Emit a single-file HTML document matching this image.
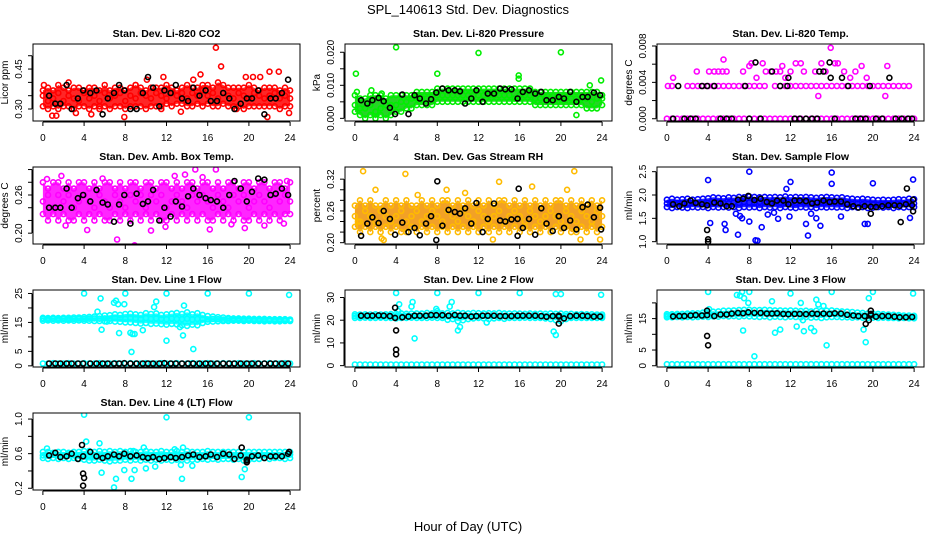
<!DOCTYPE html>
<html><head><meta charset="utf-8"><style>
html,body{margin:0;padding:0;background:#fff;}
svg{display:block;font-family:"Liberation Sans",sans-serif;}
</style></head><body>
<svg id="chart" width="936" height="540" viewBox="0 0 936 540" xmlns="http://www.w3.org/2000/svg">
<rect x="0" y="0" width="936" height="540" fill="#fff"/>
<text x="468" y="14" text-anchor="middle" font-size="13">SPL_140613  Std. Dev. Diagnostics</text>
<text x="468" y="531" text-anchor="middle" font-size="13">Hour of Day (UTC)</text>
</svg>
<script>
const HH=[0,0.5,1,1.5,2,2.5,3,3.5,4,4.5,5,5.5,6,6.5,7,7.5,8,8.5,9,9.5,10,10.5,11,11.5,12,12.5,13,13.5,14,14.5,15,15.5,16,16.5,17,17.5,18,18.5,19,19.5,20,20.5,21,21.5,22,22.5,23,23.5,24];
const BH=[0.6,1.2,1.7,2.3,2.8,3.4,3.9,4.6,5.2,5.8,6.3,6.9,7.4,7.9,8.5,9.1,9.7,10.2,10.7,11.3,11.8,12.4,12.9,13.5,14.1,14.6,15.2,15.8,16.3,16.9,17.5,18.1,18.6,19.2,19.8,20.3,20.9,21.5,22.1,22.6,23.2,23.8];
const xTicks=[0,4,8,12,16,20,24];

// CO2
const co2Lo=[0.31,0.30,0.31,0.30,0.31,0.31,0.30,0.31,0.31,0.30,0.31,0.31,0.31,0.30,0.31,0.31,0.30,0.31,0.31,0.31,0.30,0.31,0.31,0.31,0.32,0.31,0.32,0.32,0.31,0.31,0.32,0.31,0.32,0.31,0.31,0.32,0.31,0.31,0.31,0.30,0.31,0.31,0.31,0.31,0.31,0.31,0.30,0.31,0.31];
const co2Mid=[0.35,0.33,0.34,0.36,0.33,0.35,0.34,0.33,0.36,0.34,0.35,0.33,0.36,0.34,0.35,0.36,0.33,0.35,0.34,0.36,0.35,0.34,0.36,0.35,0.34,0.36,0.35,0.36,0.34,0.36,0.35,0.37,0.35,0.36,0.34,0.36,0.35,0.34,0.36,0.35,0.34,0.36,0.35,0.34,0.35,0.36,0.34,0.35,0.34];
const co2Hi=[0.37,0.38,0.37,0.39,0.38,0.37,0.38,0.38,0.37,0.38,0.38,0.37,0.39,0.37,0.38,0.38,0.37,0.38,0.39,0.38,0.37,0.38,0.38,0.38,0.39,0.38,0.37,0.38,0.39,0.38,0.38,0.39,0.39,0.38,0.40,0.39,0.38,0.38,0.38,0.38,0.39,0.38,0.37,0.38,0.38,0.38,0.37,0.38,0.37];
const co2OutH=[16.8,17.3,22.0,22.9,15.3,11.7,0.1,2.5,9.0,10.1,14.6,19.7,20.4,21.1,0.9,1.3,3.2,4.7,7.9,13.4,21.8,23.9,5.5,11.5,18.8];
const co2OutV=[0.53,0.46,0.44,0.44,0.43,0.42,0.39,0.40,0.39,0.41,0.41,0.42,0.42,0.42,0.275,0.275,0.285,0.28,0.27,0.29,0.27,0.285,0.30,0.30,0.30];
const co2Blk=[0.35,0.32,0.32,0.39,0.30,0.34,0.37,0.36,0.37,0.28,0.34,0.36,0.39,0.37,0.30,0.30,0.36,0.42,0.38,0.31,0.37,0.36,0.39,0.34,0.33,0.38,0.35,0.37,0.33,0.33,0.36,0.34,0.30,0.32,0.34,0.34,0.37,0.28,0.34,0.34,0.36,0.41];

// Pressure
const prLo=[0.002,0.001,0.000,0.001,0.000,0.001,0.000,0.001,0.002,0.002,0.003,0.003,0.004,0.004,0.004,0.004,0.005,0.005,0.005,0.005,0.005,0.005,0.005,0.005,0.005,0.005,0.005,0.005,0.005,0.005,0.005,0.005,0.005,0.005,0.005,0.004,0.004,0.004,0.004,0.004,0.004,0.004,0.004,0.004,0.004,0.003,0.003,0.003,0.004];
const prMid=[0.004,0.003,0.003,0.004,0.002,0.003,0.004,0.004,0.004,0.005,0.005,0.006,0.006,0.006,0.006,0.007,0.007,0.007,0.007,0.007,0.007,0.007,0.007,0.007,0.007,0.007,0.007,0.007,0.007,0.007,0.007,0.006,0.007,0.007,0.007,0.006,0.006,0.006,0.006,0.006,0.006,0.006,0.006,0.006,0.006,0.006,0.005,0.006,0.006];
const prHi=[0.007,0.006,0.006,0.007,0.007,0.007,0.006,0.007,0.007,0.007,0.007,0.007,0.008,0.008,0.008,0.008,0.009,0.009,0.009,0.009,0.009,0.009,0.009,0.009,0.009,0.009,0.009,0.009,0.009,0.009,0.009,0.009,0.009,0.009,0.009,0.008,0.008,0.008,0.008,0.008,0.008,0.008,0.008,0.008,0.008,0.008,0.008,0.008,0.007];
const prOutH=[0.1,4.0,8.0,12.0,15.9,15.9,20.0,22.8,23.9,21.5,0.2,1.6,2.6];
const prOutV=[0.0135,0.0215,0.0135,0.0198,0.0130,0.0120,0.0200,0.0100,0.0115,0.0010,0.0080,0.0085,0.0075];
const prBlk=[0.0055,0.0045,0.0055,0.0062,0.0052,0.0032,0.0013,0.0072,0.0013,0.0070,0.0060,0.0045,0.0058,0.0078,0.0090,0.0085,0.0085,0.0082,0.0045,0.0060,0.0085,0.0050,0.0075,0.0075,0.0090,0.0088,0.0088,0.0060,0.0080,0.0085,0.0075,0.0080,0.0055,0.0055,0.0065,0.0060,0.0080,0.0050,0.0065,0.0065,0.0078,0.0070];

// Li-820 temperature
const tpA=[0,0,0,0,0,0,0,0,0,0,0,0,0,0,0,0,0,0,0,0,0,0,0,0,0,0,0,0,0,0,0,0,0,0,0,0,0,0,0,0,0,0,0,0,0,0,0,0,0];
const tpB=[null,0.0036,null,null,0.0036,0.0036,0.0036,0.0036,0.0036,0.0036,0.0036,0.0036,0.0036,0.0036,0.0036,0.0036,0.0036,0.0036,0.0036,0.0036,null,0.0036,0.0036,0.0036,0.0036,0.0036,0.0036,0.0036,0.0036,0.0036,0.0036,0.0036,0.0036,0.0036,0.0036,0.0036,0.0036,0.0036,0.0036,0.0036,0.0036,0.0036,0.0036,0.0036,0.0036,0.0036,0.0036,0.0036,null];
const tpOutH=[0.6,2.9,4.1,4.6,5.0,5.4,5.8,5.5,7.4,8.0,8.2,8.7,9.3,9.6,10.1,10.6,11.0,11.2,11.5,12.0,12.5,13.0,13.3,14.4,14.7,15.0,15.4,15.9,16.3,16.6,17.2,17.8,18.3,18.9,19.4,21.2,21.4,0.1];
const tpOutV=[0.0045,0.0052,0.0052,0.0052,0.0052,0.0052,0.0052,0.0065,0.0052,0.0058,0.0061,0.0045,0.0061,0.0052,0.0052,0.0052,0.0052,0.0058,0.0045,0.0052,0.0061,0.0061,0.0052,0.0052,0.0025,0.0061,0.0052,0.0078,0.0061,0.0061,0.0052,0.0045,0.0052,0.0058,0.0045,0.0025,0.0058,0.0036];
const tpBlkH=[0.6,1.1,1.7,2.3,2.8,3.4,3.9,4.6,5.2,5.8,6.3,7.6,8.0,8.6,9.1,10.2,11.0,11.7,11.8,12.4,12.9,13.5,14.1,14.6,14.8,15.2,15.8,15.9,16.3,17.0,17.6,18.3,18.8,19.3,19.7,20.3,20.9,21.6,22.2,22.8,23.4,23.8];
const tpBlkV=[0,0.0036,0,0,0,0.0036,0.0036,0.0036,0,0,0,0.0036,0,0.0062,0,0.0052,0.0036,0.0036,0.0045,0,0,0,0,0,0.0052,0.0052,0.0062,0.0045,0,0.0045,0.0036,0,0,0,0.0036,0,0,0.0045,0,0,0,0];

// Amb box temp
const abLo=[0.23,0.22,0.23,0.22,0.23,0.22,0.22,0.23,0.22,0.23,0.22,0.23,0.22,0.22,0.23,0.22,0.23,0.22,0.23,0.22,0.23,0.22,0.23,0.22,0.22,0.23,0.22,0.23,0.22,0.23,0.22,0.23,0.22,0.22,0.23,0.22,0.23,0.22,0.23,0.22,0.22,0.23,0.22,0.23,0.22,0.23,0.22,0.23,0.23];
const abMid=[0.25,0.26,0.24,0.26,0.25,0.26,0.24,0.25,0.26,0.25,0.24,0.26,0.25,0.24,0.26,0.25,0.24,0.26,0.25,0.26,0.24,0.26,0.25,0.26,0.24,0.25,0.26,0.25,0.24,0.26,0.25,0.26,0.25,0.24,0.26,0.25,0.24,0.26,0.25,0.26,0.24,0.25,0.26,0.25,0.24,0.26,0.25,0.26,0.25];
const abHi=[0.28,0.27,0.28,0.28,0.27,0.28,0.27,0.28,0.28,0.27,0.28,0.27,0.28,0.28,0.27,0.28,0.27,0.28,0.28,0.27,0.28,0.28,0.27,0.28,0.28,0.27,0.28,0.27,0.28,0.28,0.27,0.28,0.28,0.27,0.28,0.27,0.28,0.28,0.27,0.28,0.28,0.27,0.28,0.28,0.27,0.28,0.28,0.27,0.28];
const abOutH=[7.2,14.8,16.8,13.8,8.9,1.8,4.3,2.2,12.8,15.5,10.5,11.9,19.6,21.5,23.4,5.8,16.2,18.3,23.7,0.4];
const abOutV=[0.190,0.300,0.300,0.292,0.181,0.290,0.205,0.212,0.290,0.288,0.204,0.210,0.208,0.212,0.215,0.286,0.206,0.214,0.282,0.285];
const abBlk=[0.24,0.24,0.24,0.27,0.24,0.255,0.26,0.25,0.268,0.248,0.245,0.218,0.245,0.26,0.215,0.262,0.246,0.25,0.268,0.22,0.24,0.226,0.25,0.242,0.258,0.27,0.26,0.255,0.252,0.25,0.24,0.26,0.282,0.27,0.25,0.265,0.286,0.284,0.26,0.262,0.27,0.26];

// Gas stream RH
const rhLo=[0.23,0.22,0.23,0.22,0.23,0.22,0.23,0.22,0.23,0.22,0.22,0.23,0.22,0.23,0.22,0.23,0.22,0.23,0.22,0.23,0.22,0.23,0.22,0.23,0.22,0.23,0.22,0.23,0.22,0.23,0.22,0.23,0.22,0.23,0.22,0.23,0.22,0.23,0.22,0.23,0.22,0.23,0.22,0.22,0.23,0.22,0.23,0.22,0.23];
const rhMid=[0.25,0.24,0.26,0.25,0.24,0.26,0.25,0.24,0.25,0.26,0.24,0.25,0.26,0.24,0.25,0.26,0.25,0.24,0.26,0.25,0.24,0.26,0.25,0.24,0.26,0.25,0.24,0.25,0.26,0.24,0.25,0.26,0.25,0.24,0.26,0.25,0.24,0.25,0.26,0.25,0.24,0.26,0.25,0.24,0.26,0.25,0.24,0.26,0.25];
const rhHi=[0.27,0.28,0.27,0.28,0.27,0.27,0.28,0.27,0.28,0.27,0.28,0.27,0.27,0.28,0.27,0.28,0.27,0.28,0.28,0.27,0.28,0.27,0.28,0.27,0.28,0.27,0.28,0.27,0.28,0.28,0.27,0.28,0.27,0.28,0.27,0.28,0.27,0.28,0.27,0.28,0.28,0.27,0.28,0.27,0.28,0.27,0.28,0.27,0.28];
const rhOutH=[0.8,4.9,21.3,14.0,2.0,8.9,10.7,17.2,20.6,6.1,2.6,2.8,13.4,21.9,23.8,0.3];
const rhOutV=[0.335,0.330,0.335,0.315,0.300,0.300,0.294,0.306,0.300,0.290,0.208,0.205,0.206,0.206,0.206,0.240];
const rhBlk=[0.213,0.236,0.248,0.237,0.260,0.245,0.215,0.238,0.220,0.228,0.214,0.236,0.250,0.205,0.232,0.262,0.258,0.255,0.265,0.236,0.275,0.220,0.245,0.274,0.242,0.240,0.244,0.245,0.228,0.245,0.215,0.265,0.236,0.222,0.250,0.228,0.242,0.225,0.267,0.272,0.248,0.266];
const rhBlkXH=[8.0,15.9,15.8,19.8,23.9];
const rhBlkXV=[0.316,0.302,0.213,0.250,0.225];

// Sample flow
const sfLo=[1.74,1.72,1.74,1.73,1.72,1.74,1.73,1.74,1.72,1.74,1.73,1.74,1.73,1.74,1.72,1.74,1.73,1.74,1.72,1.74,1.73,1.74,1.72,1.74,1.73,1.72,1.74,1.73,1.74,1.72,1.74,1.73,1.74,1.73,1.74,1.72,1.74,1.73,1.74,1.72,1.73,1.74,1.73,1.74,1.72,1.74,1.73,1.74,1.74];
const sfMid=[1.82,1.81,1.83,1.82,1.81,1.83,1.82,1.81,1.83,1.82,1.84,1.83,1.82,1.84,1.83,1.85,1.84,1.83,1.85,1.84,1.83,1.85,1.84,1.83,1.84,1.83,1.85,1.84,1.83,1.84,1.83,1.85,1.84,1.83,1.82,1.83,1.81,1.82,1.80,1.81,1.80,1.79,1.80,1.81,1.80,1.81,1.82,1.81,1.82];
const sfHi=[1.90,1.92,1.90,1.91,1.92,1.90,1.91,1.92,1.93,1.95,1.94,1.93,1.95,1.94,1.96,1.95,1.97,1.96,1.95,1.96,1.95,1.96,1.95,1.97,1.95,1.96,1.95,1.96,1.95,1.94,1.95,1.96,1.95,1.94,1.95,1.93,1.92,1.91,1.92,1.91,1.90,1.89,1.90,1.89,1.90,1.91,1.90,1.92,1.91];
const sfOutH=[4.0,8.0,16.0,16.0,12.0,20.0,23.9,4.2,5.6,5.7,6.7,7.3,6.9,8.0,8.6,8.8,9.2,11.6,11.9,13.5,13.7,14.5,14.9,16.9,19.2,19.5,23.6,9.8,10.4,10.8,7.1,14.0];
const sfOutV=[2.32,2.50,2.48,2.24,2.28,2.25,2.33,1.40,1.38,1.25,1.60,1.50,1.15,1.43,1.03,1.02,1.31,2.13,1.54,1.38,1.13,1.50,1.34,1.54,1.38,1.38,1.51,1.58,1.62,1.49,1.55,1.60];
const sfBlk=[1.80,1.76,1.82,1.88,1.83,1.80,1.78,1.84,1.82,1.76,1.76,1.90,1.92,1.98,1.89,1.92,1.85,1.82,1.88,1.88,1.80,1.88,1.88,1.87,1.82,1.84,1.88,1.85,1.86,1.86,1.80,1.76,1.73,1.76,1.75,1.74,1.76,1.78,1.78,1.77,1.80,1.78];
const sfBlkXH=[3.9,4.0,4.0,19.8,22.7,23.3,23.9,23.9];
const sfBlkXV=[1.25,1.05,1.00,1.60,1.42,2.14,1.65,1.90];

// Line 1 flow
const l1Lo=[15.6,15.7,15.6,15.7,15.6,15.7,15.6,15.7,15.6,15.6,15.5,15.5,15.4,15.5,15.3,15.2,15.0,15.0,14.8,14.6,14.8,14.5,14.6,14.4,14.2,14.5,14.3,14.0,13.8,14.2,14.0,14.8,15.2,15.3,15.4,15.5,15.5,15.6,15.6,15.5,15.6,15.5,15.5,15.4,15.5,15.4,15.4,15.5,15.5];
const l1Mid=[16.2,16.1,16.2,16.1,16.2,16.1,16.2,16.3,16.2,16.3,16.4,16.3,16.4,16.3,16.5,16.4,16.3,16.5,16.4,16.2,16.5,16.3,16.4,16.2,16.1,16.4,16.2,16.1,16.3,16.0,16.2,16.1,16.0,16.2,16.1,16.0,16.0,15.9,16.0,15.9,15.9,15.8,15.9,15.8,15.8,15.8,15.8,15.8,15.7];
const l1Hi=[16.6,16.5,16.6,16.5,16.6,16.6,16.7,16.7,16.8,16.9,17.0,17.2,17.4,17.5,17.8,17.6,17.9,18.0,17.8,17.6,18.2,17.9,18.1,17.6,17.8,18.0,18.3,17.9,18.5,17.8,18.2,17.6,17.2,17.0,16.8,16.7,16.5,16.4,16.4,16.3,16.3,16.2,16.2,16.2,16.1,16.1,16.1,16.1,16.0];
const l1Base=[0.8,0.8,0.9,0.8,0.8,0.9,0.8,0.8,0.9,0.8,0.8,0.9,0.8,0.8,0.9,0.8,0.8,0.9,0.8,0.8,0.9,0.8,0.8,0.9,0.8,0.8,0.9,0.8,0.8,0.9,0.8,0.8,0.9,0.8,0.8,0.9,0.8,0.8,0.9,0.8,0.8,0.9,0.8,0.8,0.9,0.8,0.8,0.9,0.8];
const l1OutH=[4.0,8.0,12.0,16.0,20.0,23.9,5.6,6.9,7.1,7.3,7.9,5.3,5.7,7.4,8.5,8.7,8.9,8.6,9.7,10.8,11.0,12.0,13.3,13.6,13.7,14.6,6.2];
const l1OutV=[25.0,25.0,25.0,25.0,25.0,24.5,23.3,21.8,22.5,21.3,21.3,18.7,12.5,11.3,11.4,11.0,11.0,4.8,12.3,20.3,22.2,8.7,13.4,10.5,20.8,5.8,15.3];
const l1Blk=[0.8,0.8,0.8,0.8,0.8,0.8,0.8,0.8,0.8,0.8,0.8,0.8,0.8,0.9,0.8,0.8,0.8,0.8,0.8,0.8,0.9,0.8,0.8,0.8,0.8,0.8,0.8,0.8,0.8,0.8,0.8,0.8,0.8,0.8,0.8,0.8,0.8,0.8,0.8,0.8,0.8,0.8];

// Line 2 flow
const l2Lo=[21.0,21.0,21.1,21.0,21.0,21.1,21.0,21.0,20.8,21.0,21.0,21.1,21.0,21.0,21.0,21.1,21.0,21.0,20.2,20.5,19.5,20.0,20.5,20.8,21.0,20.8,20.5,20.8,21.0,20.6,21.0,21.0,21.0,21.1,21.0,21.0,21.0,20.8,20.5,20.0,19.5,20.5,21.0,21.0,21.0,21.0,21.0,21.0,21.0];
const l2Mid=[21.8,21.7,21.8,21.7,21.8,21.7,21.8,21.9,21.7,21.8,21.9,21.8,21.9,21.8,22.0,21.9,22.0,21.9,21.8,21.9,21.8,21.9,21.8,21.9,21.8,21.9,21.8,21.9,21.8,21.9,21.8,21.9,21.8,21.9,21.8,21.8,21.7,21.8,21.7,21.8,21.7,21.8,21.7,21.8,21.7,21.8,21.7,21.8,21.7];
const l2Hi=[22.6,22.5,22.6,22.5,22.6,22.5,22.6,22.7,22.8,23.0,22.8,22.9,23.0,22.9,23.2,23.0,23.1,23.0,23.2,23.0,23.3,23.1,23.0,23.2,23.1,23.0,23.1,23.0,23.2,23.0,22.9,23.0,22.9,22.8,23.0,22.8,22.9,22.8,23.0,22.8,22.9,22.7,22.8,22.6,22.7,22.6,22.6,22.5,22.5];
const l2Base=[0.5,0.5,0.5,0.5,0.5,0.5,0.5,0.5,0.5,0.5,0.5,0.5,0.5,0.5,0.5,0.5,0.5,0.5,0.5,0.5,0.5,0.5,0.5,0.5,0.5,0.5,0.5,0.5,0.5,0.5,0.5,0.5,0.5,0.5,0.5,0.5,0.5,0.5,0.5,0.5,0.5,0.5,0.5,0.5,0.5,0.5,0.5,0.5,0.5];
const l2OutH=[4.0,8.0,12.0,16.0,19.5,20.0,23.9,4.3,5.5,5.6,5.8,7.9,8.0,9.2,9.4,10.0,10.2,12.8,19.3,19.5,4.2];
const l2OutV=[32.0,32.0,32.0,32.0,31.5,31.5,31.2,27.0,26.0,28.0,12.0,25.0,24.0,26.0,28.0,15.5,17.0,19.0,15.0,13.5,24.0];
const l2Blk=[22.0,22.0,22.0,22.1,22.0,21.8,21.0,21.3,21.6,22.0,22.0,22.0,22.3,22.2,22.2,22.0,22.3,22.0,22.0,21.6,21.8,22.0,22.0,22.0,21.8,21.8,21.8,22.0,22.0,22.0,22.0,21.8,21.5,21.8,21.6,20.8,21.8,22.0,22.0,21.8,21.6,21.6];
const l2BlkXH=[3.9,4.0,4.0,4.0,19.8,19.8];
const l2BlkXV=[25.5,15.5,7.0,5.0,18.5,22.0];

// Line 3 flow
const l3Lo=[15.4,15.4,15.5,15.4,15.5,15.4,15.5,15.6,15.5,15.7,15.6,15.8,15.7,15.8,15.6,15.8,15.7,15.6,15.5,15.7,15.4,15.6,15.5,15.4,15.6,15.5,15.4,15.5,15.3,15.4,15.2,15.4,15.5,15.5,15.4,15.4,15.3,15.4,15.3,15.2,15.3,15.2,15.3,15.2,15.2,15.1,15.2,15.1,15.1];
const l3Mid=[15.9,15.9,16.0,15.9,16.0,16.1,16.0,16.2,16.1,16.3,16.3,16.4,16.5,16.6,16.5,16.7,16.6,16.7,16.6,16.7,16.6,16.6,16.5,16.6,16.5,16.6,16.5,16.6,16.4,16.5,16.4,16.5,16.6,16.4,16.3,16.2,16.1,16.0,16.0,15.9,15.9,15.8,15.8,15.7,15.6,15.6,15.5,15.5,15.4];
const l3Hi=[16.4,16.4,16.5,16.5,16.6,16.7,16.7,16.9,17.0,17.2,17.3,17.5,17.5,17.6,17.7,17.8,17.8,17.7,17.7,17.8,17.7,17.6,17.6,17.5,17.6,17.5,17.4,17.5,17.3,17.5,17.4,17.5,17.6,17.4,17.3,17.2,17.1,16.9,16.8,16.6,16.6,16.5,16.4,16.3,16.2,16.1,16.0,16.0,15.9];
const l3Base=[0.5,0.5,0.5,0.5,0.5,0.5,0.5,0.5,0.5,0.5,0.5,0.5,0.5,0.5,0.5,0.5,0.5,0.5,0.5,0.5,0.5,0.5,0.5,0.5,0.5,0.5,0.5,0.5,0.5,0.5,0.5,0.5,0.5,0.5,0.5,0.5,0.5,0.5,0.5,0.5,0.5,0.5,0.5,0.5,0.5,0.5,0.5,0.5,0.5];
const l3OutH=[4.0,8.0,12.0,16.0,20.0,23.9,7.1,7.3,7.5,6.8,7.9,7.4,10.2,10.5,11.0,12.6,13.0,13.2,13.3,14.0,14.3,14.5,14.7,15.2,15.5,8.5,19.1,19.3,19.6,4.1];
const l3OutV=[23.5,23.5,23.0,23.5,23.5,23.0,22.3,23.5,21.5,22.5,20.0,11.2,20.5,10.5,11.5,12.5,20.0,14.5,11.0,12.0,11.0,21.0,19.5,19.0,6.5,3.0,11.5,7.5,21.5,18.0];
const l3Blk=[15.7,15.8,15.8,16.0,16.1,16.0,16.1,15.8,16.3,16.3,16.6,16.8,16.7,17.0,16.8,16.8,16.6,16.6,16.7,16.5,16.4,16.5,16.5,16.4,16.6,16.5,16.6,16.5,16.7,16.6,16.2,16.0,15.8,15.8,16.1,15.6,15.8,15.8,15.6,15.4,15.4,15.5];
const l3BlkXH=[3.9,4.0,3.9,19.3,19.6,19.8,19.8];
const l3BlkXV=[9.5,6.5,17.5,13.3,14.5,17.5,16.5];

// Line 4 flow
const l4Lo=[0.55,0.54,0.55,0.54,0.55,0.54,0.55,0.54,0.53,0.52,0.52,0.53,0.52,0.51,0.52,0.52,0.53,0.52,0.53,0.52,0.53,0.52,0.53,0.52,0.53,0.52,0.53,0.53,0.52,0.53,0.53,0.54,0.53,0.54,0.53,0.54,0.54,0.53,0.54,0.52,0.53,0.54,0.54,0.55,0.54,0.55,0.55,0.54,0.55];
const l4Mid=[0.58,0.58,0.59,0.58,0.58,0.59,0.58,0.58,0.59,0.58,0.58,0.57,0.58,0.57,0.58,0.58,0.58,0.57,0.58,0.58,0.57,0.58,0.58,0.57,0.58,0.57,0.58,0.58,0.57,0.58,0.58,0.57,0.58,0.58,0.57,0.58,0.58,0.58,0.57,0.58,0.57,0.58,0.58,0.58,0.58,0.58,0.58,0.58,0.59];
const l4Hi=[0.62,0.62,0.61,0.62,0.62,0.61,0.62,0.62,0.63,0.63,0.62,0.63,0.62,0.63,0.62,0.63,0.62,0.63,0.62,0.62,0.63,0.62,0.62,0.63,0.62,0.62,0.63,0.62,0.63,0.62,0.62,0.62,0.63,0.62,0.62,0.62,0.62,0.62,0.62,0.62,0.62,0.62,0.62,0.62,0.62,0.62,0.62,0.62,0.62];
const l4OutH=[4.0,12.0,20.0,4.2,5.5,5.7,6.9,7.1,7.9,8.6,8.9,9.8,10.0,10.9,13.5,13.6,13.4,14.5,19.3,19.6,0.4,8.8,12.8];
const l4OutV=[1.05,1.02,1.02,0.74,0.72,0.38,0.21,0.31,0.41,0.31,0.41,0.67,0.43,0.45,0.31,0.67,0.47,0.46,0.33,0.42,0.66,0.63,0.65];
const l4Blk=[0.58,0.61,0.56,0.57,0.60,0.54,0.57,0.62,0.57,0.55,0.57,0.59,0.57,0.60,0.57,0.58,0.56,0.55,0.56,0.54,0.55,0.56,0.55,0.56,0.58,0.59,0.56,0.57,0.59,0.56,0.60,0.59,0.54,0.58,0.53,0.57,0.58,0.55,0.57,0.57,0.57,0.60];
const l4BlkXH=[3.8,3.9,4.0,3.9,19.3,19.8,19.8,23.9];
const l4BlkXV=[0.70,0.37,0.32,0.23,0.67,0.52,0.50,0.62];

const svg=document.getElementById('chart');
const NS='http://www.w3.org/2000/svg';
function el(tag,attrs,parent){const e=document.createElementNS(NS,tag);for(const k in attrs)e.setAttribute(k,attrs[k]);(parent||svg).appendChild(e);return e;}

function panel(p){
  const g=el('g',{});
  
  
  const L=33+312*p.col, T=44+123*p.row, W=267, H=77;
  const xs=h=>L+(h+0.96)/25.92*W;
  const ys=v=>T+H-(v-p.ylim[0])/(p.ylim[1]-p.ylim[0])*H;
  const cp=el('clipPath',{id:'cp'+p.name},g);
  el('rect',{x:L,y:T,width:W,height:H},cp);
  const plot=el('g',{'clip-path':'url(#cp'+p.name+')'},g);
  function dots(hs,vs,color,nm){
    for(let i=0;i<vs.length;i++){ if(vs[i]===null||vs[i]===undefined)continue;
      const c=el('circle',{cx:xs(hs[i]).toFixed(1),cy:ys(vs[i]).toFixed(1),r:2.5,fill:'none',stroke:color,'stroke-width':1.6},plot);
      
      
    }
  }
  if(p.lo&&p.hi){
    let d='';
    for(let i=0;i<HH.length;i++)d+=(i?'L':'M')+xs(HH[i]).toFixed(1)+','+ys(p.hi[i]).toFixed(1);
    for(let i=HH.length-1;i>=0;i--)d+='L'+xs(HH[i]).toFixed(1)+','+ys(p.lo[i]).toFixed(1);
    const b=el('path',{d:d+'Z',fill:p.fill||p.color,opacity:0.85},plot);
    
    
  }
  (p.lines||[]).forEach(a=>dots(HH,a,p.color,'series-point'));
  if(p.outH)dots(p.outH,p.outV,p.color,'outlier-point');
  if(p.blkH)dots(p.blkH,p.blk,'#000','black-point');
  if(p.blkXH)dots(p.blkXH,p.blkXV,'#000','black-point');
  const box=el('rect',{x:L,y:T,width:W,height:H,fill:'none',stroke:'#000','stroke-width':1},g);
  
  
  // x axis
  const ax=el('g',{},g);
  
  
  el('line',{x1:xs(0),x2:xs(24),y1:T+H+1,y2:T+H+1,stroke:'#000'},ax);
  xTicks.forEach(t=>{
    el('line',{x1:xs(t),x2:xs(t),y1:T+H+1,y2:T+H+5,stroke:'#000'},ax);
    const tx=el('text',{x:xs(t),y:T+H+20,'text-anchor':'middle','font-size':10},ax);
    tx.textContent=t;
    
    
  });
  // y axis
  const ay=el('g',{},g);
  
  
  el('line',{x1:L-1,x2:L-1,y1:ys(p.ticks[0]),y2:ys(p.ticks[p.ticks.length-1]),stroke:'#000'},ay);
  p.ticks.forEach(t=>el('line',{x1:L-5,x2:L-1,y1:ys(t),y2:ys(t),stroke:'#000'},ay));
  p.labVals.forEach((t,i)=>{
    const yy=ys(t), xx=L-11;
    const tx=el('text',{x:xx,y:yy,'text-anchor':'middle','font-size':10,transform:'rotate(-90 '+xx+' '+yy+')'},ay);
    tx.textContent=p.labText[i];
    
    
  });
  const yt=el('text',{x:L-25,y:T+H/2,'text-anchor':'middle','font-size':10,transform:'rotate(-90 '+(L-25)+' '+(T+H/2)+')'},g);
  yt.textContent=p.ylab;
  
  
  const ti=el('text',{x:L+W/2,y:T-7,'text-anchor':'middle','font-size':10.5,'font-weight':'bold'},g);
  ti.textContent=p.title;
  
  
}

panel({name:'panel-co2',row:0,col:0,title:'Stan. Dev. Li-820 CO2',ylab:'Licor ppm',ylim:[0.255,0.544],ticks:[0.30,0.35,0.40,0.45,0.50],labVals:[0.30,0.45],labText:['0.30','0.45'],color:'#ff0000',lo:co2Lo,hi:co2Hi,lines:[co2Lo,co2Mid,co2Hi],outH:co2OutH,outV:co2OutV,blkH:BH,blk:co2Blk});
panel({name:'panel-pressure',row:0,col:1,title:'Stan. Dev. Li-820 Pressure',ylab:'kPa',ylim:[-0.0008,0.0225],ticks:[0,0.005,0.010,0.015,0.020],labVals:[0,0.010,0.020],labText:['0.000','0.010','0.020'],color:'#00ee00',fill:'#00cc00',lo:prLo,hi:prHi,lines:[prLo,prMid,prHi],outH:prOutH,outV:prOutV,blkH:BH,blk:prBlk});
panel({name:'panel-li820-temp',row:0,col:2,title:'Stan. Dev. Li-820 Temp.',ylab:'degrees C',ylim:[-0.00025,0.00822],ticks:[0,0.002,0.004,0.006,0.008],labVals:[0,0.004,0.008],labText:['0.000','0.004','0.008'],color:'#ff00ff',lines:[tpA,tpB],outH:tpOutH,outV:tpOutV,blkH:tpBlkH,blk:tpBlkV});
panel({name:'panel-amb-box-temp',row:1,col:0,title:'Stan. Dev. Amb. Box Temp.',ylab:'degrees C',ylim:[0.183,0.304],ticks:[0.20,0.22,0.24,0.26,0.28,0.30],labVals:[0.20,0.26],labText:['0.20','0.26'],color:'#ff00ff',lo:abLo,hi:abHi,lines:[abLo,abMid,abHi],outH:abOutH,outV:abOutV,blkH:BH,blk:abBlk});
panel({name:'panel-gas-stream-rh',row:1,col:1,title:'Stan. Dev. Gas Stream RH',ylab:'percent',ylim:[0.1975,0.343],ticks:[0.20,0.22,0.24,0.26,0.28,0.30,0.32],labVals:[0.20,0.26,0.32],labText:['0.20','0.26','0.32'],color:'#ffbb00',fill:'#f09000',lo:rhLo,hi:rhHi,lines:[rhLo,rhMid,rhHi],outH:rhOutH,outV:rhOutV,blkH:BH,blk:rhBlk,blkXH:rhBlkXH,blkXV:rhBlkXV});
panel({name:'panel-sample-flow',row:1,col:2,title:'Stan. Dev. Sample Flow',ylab:'ml/min',ylim:[0.95,2.60],ticks:[1.0,1.5,2.0,2.5],labVals:[1.0,1.5,2.0,2.5],labText:['1.0','1.5','2.0','2.5'],color:'#0000ff',lo:sfLo,hi:sfHi,lines:[sfLo,sfMid,sfHi],outH:sfOutH,outV:sfOutV,blkH:BH,blk:sfBlk,blkXH:sfBlkXH,blkXV:sfBlkXV});
panel({name:'panel-line1-flow',row:2,col:0,title:'Stan. Dev. Line 1 Flow',ylab:'ml/min',ylim:[-0.4,26.2],ticks:[0,5,10,15,20,25],labVals:[0,5,15,25],labText:['0','5','15','25'],color:'#00ffff',lo:l1Lo,hi:l1Hi,lines:[l1Lo,l1Mid,l1Hi,l1Base],outH:l1OutH,outV:l1OutV,blkH:BH,blk:l1Blk});
panel({name:'panel-line2-flow',row:2,col:1,title:'Stan. Dev. Line 2 Flow',ylab:'ml/min',ylim:[-0.6,33.3],ticks:[0,10,20,30],labVals:[0,10,20,30],labText:['0','10','20','30'],color:'#00ffff',lo:l2Lo,hi:l2Hi,lines:[l2Lo,l2Mid,l2Hi,l2Base],outH:l2OutH,outV:l2OutV,blkH:BH,blk:l2Blk,blkXH:l2BlkXH,blkXV:l2BlkXV});
panel({name:'panel-line3-flow',row:2,col:2,title:'Stan. Dev. Line 3 Flow',ylab:'ml/min',ylim:[-0.4,24.1],ticks:[0,5,10,15,20],labVals:[0,5,15],labText:['0','5','15'],color:'#00ffff',lo:l3Lo,hi:l3Hi,lines:[l3Lo,l3Mid,l3Hi,l3Base],outH:l3OutH,outV:l3OutV,blkH:BH,blk:l3Blk,blkXH:l3BlkXH,blkXV:l3BlkXV});
panel({name:'panel-line4-flow',row:3,col:0,title:'Stan. Dev. Line 4 (LT) Flow',ylab:'ml/min',ylim:[0.18,1.07],ticks:[0.2,0.4,0.6,0.8,1.0],labVals:[0.2,0.6,1.0],labText:['0.2','0.6','1.0'],color:'#00ffff',lo:l4Lo,hi:l4Hi,lines:[l4Lo,l4Mid,l4Hi],outH:l4OutH,outV:l4OutV,blkH:BH,blk:l4Blk,blkXH:l4BlkXH,blkXV:l4BlkXV});
</script>
</body></html>
